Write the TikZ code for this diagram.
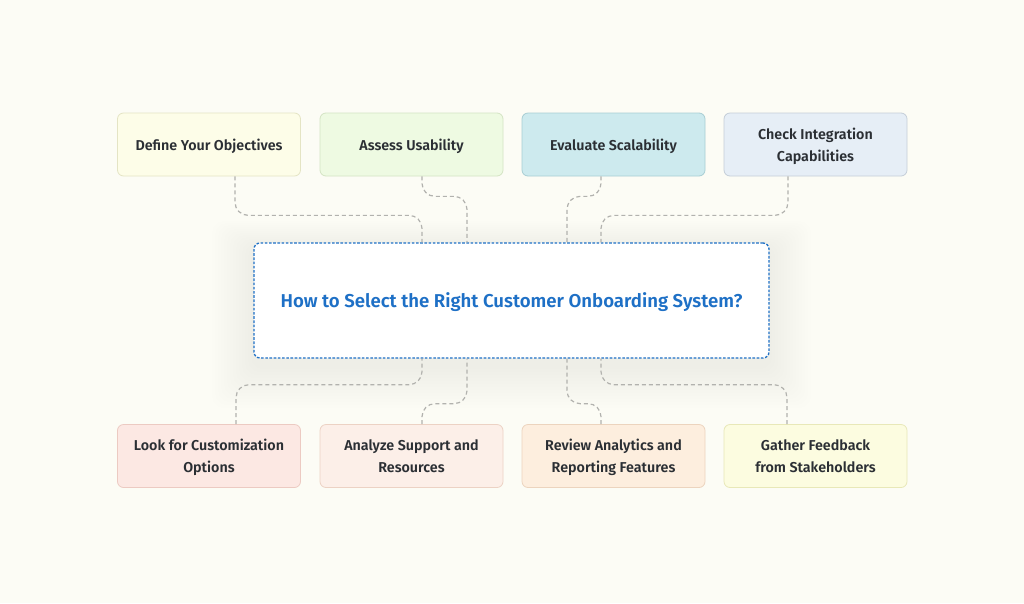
\documentclass[tikz,border=0pt]{standalone}
\usepackage{fontspec}
\setmainfont{Fira Sans}[BoldFont={Fira Sans SemiBold}]
\usepackage{tikz}
\usetikzlibrary{calc}
\definecolor{paper}{RGB}{252,252,245}
\definecolor{ink}{RGB}{43,47,52}
\definecolor{hubblue}{RGB}{30,112,198}
\definecolor{linkgray}{RGB}{178,178,174}
\definecolor{yellowfill}{RGB}{253,253,232}
\definecolor{yellowdraw}{RGB}{228,228,196}
\definecolor{greenfill}{RGB}{238,250,226}
\definecolor{greendraw}{RGB}{212,228,196}
\definecolor{tealfill}{RGB}{205,234,238}
\definecolor{tealdraw}{RGB}{168,206,212}
\definecolor{bluefill}{RGB}{230,238,246}
\definecolor{bluedraw}{RGB}{196,206,216}
\definecolor{pinkfill}{RGB}{252,232,227}
\definecolor{pinkdraw}{RGB}{236,202,194}
\definecolor{peachfill}{RGB}{252,239,232}
\definecolor{peachdraw}{RGB}{236,210,196}
\definecolor{orangefill}{RGB}{253,238,222}
\definecolor{orangedraw}{RGB}{236,212,190}
\definecolor{lemonfill}{RGB}{252,252,224}
\definecolor{lemondraw}{RGB}{232,232,184}
\tikzset{
  topic/.style={
    rounded corners=6pt, line width=0.8pt,
    minimum width=183pt, minimum height=63pt,
    align=center, text=ink, text depth=0pt,
    font=\bfseries\fontsize{14.3}{22}\selectfont
  }}
\tikzset{
  hub/.style={
    rounded corners=6pt, fill=white, draw=hubblue,
    line width=1.3pt, dash pattern=on 2.6pt off 1.6pt,
    minimum width=515pt, minimum height=115pt,
    text=hubblue, text depth=0pt,
    font=\bfseries\fontsize{18.6}{22}\selectfont
  }}
\tikzset{
  link/.style={
    draw=linkgray, line width=1.2pt,
    dash pattern=on 4pt off 3pt, rounded corners=13pt
  }}

\begin{document}
\begin{tikzpicture}[x=1pt,y=-1pt]
    \fill[paper] (0,0) rectangle (1024,603);
    \useasboundingbox (0,0) rectangle (1024,603);
    % soft shadow round the hub
    \foreach \i in {1,...,14}
        \fill[black,opacity=0.005,rounded corners=12pt]
        (254-3*\i,243+6-2*\i) rectangle (769+3*\i,358+8+3*\i);
    \node[hub] (H) at (511.5,300.5) {How to Select the Right Customer Onboarding System?};
    \node[topic,fill=yellowfill,draw=yellowdraw] (T1) at (209,144.5) {Define Your Objectives};
    \node[topic,fill=greenfill,draw=greendraw] (T2) at (411.5,144.5) {Assess Usability};
    \node[topic,fill=tealfill,draw=tealdraw] (T3) at (613.5,144.5) {Evaluate Scalability};
    \node[topic,fill=bluefill,draw=bluedraw] (T4) at (815.5,144.5) {Check Integration\\Capabilities};
    \node[topic,fill=pinkfill,draw=pinkdraw] (B1) at (209,456) {Look for Customization\\Options};
    \node[topic,fill=peachfill,draw=peachdraw] (B2) at (411.5,456) {Analyze Support and\\Resources};
    \node[topic,fill=orangefill,draw=orangedraw] (B3) at (613.5,456) {Review Analytics and\\Reporting Features};
    \node[topic,fill=lemonfill,draw=lemondraw] (B4) at (815.5,456) {Gather Feedback\\from Stakeholders};
    % top links
    \draw[link] ([xshift=26pt]T1.south) |- ([xshift=-89.5pt,yshift=27pt]H.north) -- ([xshift=-89.5pt]H.north);
    \draw[link] ([xshift=10.5pt]T2.south) |- ([xshift=-44.5pt,yshift=46pt]H.north) -- ([xshift=-44.5pt]H.north);
    \draw[link] ([xshift=-12.5pt]T3.south) |- ([xshift=55.5pt,yshift=46pt]H.north) -- ([xshift=55.5pt]H.north);
    \draw[link] ([xshift=-27.5pt]T4.south) |- ([xshift=89.5pt,yshift=27pt]H.north) -- ([xshift=89.5pt]H.north);
    % bottom links
    \draw[link] ([xshift=27pt]B1.north) |- ([xshift=-89.5pt,yshift=-26pt]H.south) -- ([xshift=-89.5pt]H.south);
    \draw[link] ([xshift=10.5pt]B2.north) |- ([xshift=-44.5pt,yshift=-45pt]H.south) -- ([xshift=-44.5pt]H.south);
    \draw[link] ([xshift=-12.5pt]B3.north) |- ([xshift=55.5pt,yshift=-45pt]H.south) -- ([xshift=55.5pt]H.south);
    \draw[link] ([xshift=-28.5pt]B4.north) |- ([xshift=89.5pt,yshift=-26pt]H.south) -- ([xshift=89.5pt]H.south);
\end{tikzpicture}
\end{document}
